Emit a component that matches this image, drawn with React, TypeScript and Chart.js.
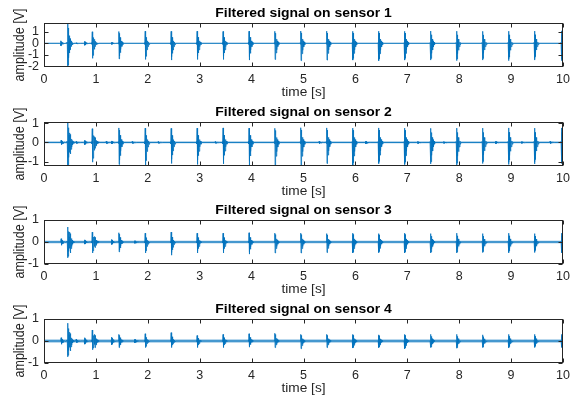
import React, { useEffect, useRef } from 'react';
import { Chart, registerables } from 'chart.js';

Chart.register(...registerables);

// ---------- data ----------
const TIME_TICKS = [0, 1, 2, 3, 4, 5, 6, 7, 8, 9, 10];
const SENSOR_TITLES = [
  'Filtered signal on sensor 1',
  'Filtered signal on sensor 2',
  'Filtered signal on sensor 3',
  'Filtered signal on sensor 4',
];
const X_LABEL = 'time [s]';
const Y_LABEL = 'amplitude [V]';

// main burst times (s)
const BURST_T = [0.455, 0.93, 1.445, 1.95, 2.45, 2.95, 3.45, 3.95, 4.45, 4.95, 5.45, 5.95, 6.45, 6.95, 7.45, 7.95, 8.45, 8.95, 9.45, 9.97];

// sensor 1
const S1_Y_TICKS = [1, 0, -1, -2];
const S1_RANGE = [-2.05, 1.76];
const S1_MAX = [1.9, 1.0, 1.02, 1.05, 1.04, 1.05, 1.03, 1.05, 1.04, 1.06, 1.05, 1.04, 1.05, 1.04, 1.06, 1.05, 1.04, 1.05, 1.06, 1.08];
const S1_MIN = [-2.1, -1.3, -1.35, -1.4, -1.45, -1.4, -1.4, -1.45, -1.4, -1.5, -1.45, -1.45, -1.5, -1.45, -1.45, -1.5, -1.45, -1.5, -1.45, -1.5];
const S1_MINOR_T = [0.32, 0.49, 0.62, 0.78, 0.97, 1.3];
const S1_MINOR_MAX = [0.22, 0.6, 0.05, 0.18, 0.35, 0.1];
const S1_MINOR_MIN = [-0.22, -0.7, -0.05, -0.18, -0.35, -0.1];

// sensor 2
const S2_Y_TICKS = [1, 0, -1];
const S2_RANGE = [-1.23, 1.07];
const S2_MAX = [1.1, 0.72, 0.76, 0.75, 0.74, 0.75, 0.76, 0.75, 0.74, 0.77, 0.76, 0.75, 0.76, 0.75, 0.74, 0.75, 0.75, 0.76, 0.75, 0.76];
const S2_MIN = [-1.3, -1.03, -1.15, -1.18, -1.1, -1.15, -1.12, -1.18, -1.2, -1.2, -1.1, -1.18, -1.1, -1.15, -1.12, -1.2, -1.1, -1.15, -1.12, -1.1];
const S2_MINOR_T = [0.33, 0.5, 0.62, 0.78, 0.98, 1.2, 1.3, 1.7, 2.2, 3.3, 5.3, 6.2, 7.2, 7.7, 8.7, 9.2, 9.75];
const S2_MINOR_MAX = [0.12, 0.5, 0.06, 0.12, 0.3, 0.07, 0.08, 0.06, 0.05, 0.05, 0.06, 0.07, 0.06, 0.05, 0.07, 0.05, 0.06];
const S2_MINOR_MIN = [-0.12, -0.6, -0.06, -0.12, -0.3, -0.07, -0.08, -0.06, -0.05, -0.05, -0.06, -0.07, -0.06, -0.05, -0.07, -0.05, -0.06];

// sensor 3
const S3_Y_TICKS = [1, 0, -1];
const S3_RANGE = [-1, 1];
const S3_MAX = [0.68, 0.45, 0.42, 0.4, 0.45, 0.4, 0.4, 0.42, 0.4, 0.4, 0.38, 0.4, 0.38, 0.4, 0.38, 0.4, 0.38, 0.4, 0.38, 0.4];
const S3_MIN = [-0.72, -0.5, -0.45, -0.5, -0.6, -0.5, -0.5, -0.55, -0.5, -0.5, -0.48, -0.5, -0.48, -0.5, -0.5, -0.5, -0.48, -0.5, -0.48, -0.5];
const S3_MINOR_T = [0.33, 0.5, 0.78, 0.98, 1.3, 1.75];
const S3_MINOR_MAX = [0.15, 0.45, 0.1, 0.25, 0.12, 0.06];
const S3_MINOR_MIN = [-0.15, -0.5, -0.1, -0.25, -0.12, -0.06];

// sensor 4
const S4_Y_TICKS = [1, 0, -1];
const S4_RANGE = [-1, 1];
const S4_MAX = [0.81, 0.5, 0.3, 0.33, 0.38, 0.25, 0.3, 0.33, 0.35, 0.3, 0.3, 0.3, 0.28, 0.3, 0.3, 0.3, 0.28, 0.3, 0.3, 0.3];
const S4_MIN = [-0.72, -0.4, -0.3, -0.3, -0.3, -0.3, -0.3, -0.28, -0.3, -0.35, -0.3, -0.32, -0.3, -0.35, -0.3, -0.33, -0.3, -0.32, -0.3, -0.3];
const S4_MINOR_T = [0.33, 0.5, 0.62, 0.78, 0.98, 1.3, 1.75];
const S4_MINOR_MAX = [0.15, 0.4, 0.08, 0.15, 0.3, 0.18, 0.08];
const S4_MINOR_MIN = [-0.15, -0.45, -0.08, -0.15, -0.3, -0.18, -0.08];

// baseline noise band thickness (px) per sensor
const NOISE_WIDTH = [1, 1.8, 2.5, 3];

// burst waveform read from the bursts: time offsets (s) and relative amplitude
const SHAPE_DT = [-0.012, -0.006, 0, 0.003, 0.006, 0.009, 0.012, 0.016, 0.02, 0.025, 0.031, 0.038, 0.046, 0.055, 0.065, 0.075];
const SHAPE_F = [0.06, -0.06, 1, -1, 0.85, -0.9, 0.7, -0.8, 0.5, -0.6, 0.35, -0.4, 0.2, -0.2, 0.1, -0.08];

// ---------- styling ----------
const FONT = '"Liberation Sans", Arial, Helvetica, sans-serif';
const LINE = 'rgba(0,114,189,0.9)';
const AXIS = '#262626';
const W = 575;
const CANVAS_H = 102;
const CANVAS_TOPS = [0, 99, 197, 296];

type Pt = { x: number; y: number };

function buildSignal(times: number[], maxs: number[], mins: number[], mt: number[], mmax: number[], mmin: number[]): Pt[] {
  const pts: Pt[] = [{ x: 0, y: 0 }, { x: 10, y: 0 }];
  const add = (t: number, hi: number, lo: number) => {
    pts.push({ x: t - 0.02, y: 0 });
    SHAPE_DT.forEach((dt, i) => {
      const f = SHAPE_F[i];
      pts.push({ x: t + dt, y: f >= 0 ? f * hi : -f * lo });
    });
    pts.push({ x: t + 0.085, y: 0 });
  };
  times.forEach((t, i) => add(t, maxs[i], mins[i]));
  mt.forEach((t, i) => add(t, mmax[i], mmin[i]));
  pts.sort((a, b) => a.x - b.x);
  return pts;
}

const SENSORS = [
  { title: SENSOR_TITLES[0], ticks: S1_Y_TICKS, range: S1_RANGE, pts: () => buildSignal(BURST_T, S1_MAX, S1_MIN, S1_MINOR_T, S1_MINOR_MAX, S1_MINOR_MIN), noise: NOISE_WIDTH[0] },
  { title: SENSOR_TITLES[1], ticks: S2_Y_TICKS, range: S2_RANGE, pts: () => buildSignal(BURST_T, S2_MAX, S2_MIN, S2_MINOR_T, S2_MINOR_MAX, S2_MINOR_MIN), noise: NOISE_WIDTH[1] },
  { title: SENSOR_TITLES[2], ticks: S3_Y_TICKS, range: S3_RANGE, pts: () => buildSignal(BURST_T, S3_MAX, S3_MIN, S3_MINOR_T, S3_MINOR_MAX, S3_MINOR_MIN), noise: NOISE_WIDTH[2] },
  { title: SENSOR_TITLES[3], ticks: S4_Y_TICKS, range: S4_RANGE, pts: () => buildSignal(BURST_T, S4_MAX, S4_MIN, S4_MINOR_T, S4_MINOR_MAX, S4_MINOR_MIN), noise: NOISE_WIDTH[3] },
];

function stretchedText(ctx: CanvasRenderingContext2D, text: string, cx: number, baseline: number, font: string, sx: number, color: string) {
  ctx.save();
  ctx.font = font;
  ctx.fillStyle = color;
  ctx.textAlign = 'center';
  ctx.textBaseline = 'alphabetic';
  ctx.translate(cx, baseline);
  ctx.scale(sx, 1);
  ctx.fillText(text, 0, 0);
  ctx.restore();
}

function makeFramePlugin(title: string) {
  return {
    id: 'matlabFrame',
    afterDraw(chart: any) {
      const { ctx, chartArea } = chart;
      const { left, right, top, bottom } = chartArea;
      const xs = chart.scales.x;
      const ys = chart.scales.y;
      ctx.save();
      ctx.strokeStyle = AXIS;
      ctx.lineWidth = 1;
      const L = Math.round(left) + 0.5;
      const R = Math.round(right) - 0.5;
      const T = Math.round(top) + 0.5;
      const B = Math.round(bottom) - 0.5;
      ctx.strokeRect(L, T, R - L, B - T);
      const tl = 4;
      ctx.beginPath();
      xs.ticks.forEach((t: any) => {
        const px = Math.round(xs.getPixelForValue(t.value)) + 0.5;
        ctx.moveTo(px, B); ctx.lineTo(px, B - tl);
        ctx.moveTo(px, T); ctx.lineTo(px, T + tl);
      });
      ys.ticks.forEach((t: any) => {
        const py = Math.round(ys.getPixelForValue(t.value)) + 0.5;
        ctx.moveTo(L, py); ctx.lineTo(L + tl, py);
        ctx.moveTo(R, py); ctx.lineTo(R - tl, py);
      });
      ctx.stroke();
      ctx.restore();

      const cx = (left + right) / 2;
      stretchedText(ctx, title, cx, top - 6, `bold 12px ${FONT}`, 1.16, '#000');
      stretchedText(ctx, X_LABEL, cx, bottom + 29, `12px ${FONT}`, 1.14, AXIS);

      ctx.save();
      ctx.font = `12.5px ${FONT}`;
      ctx.fillStyle = AXIS;
      ctx.textAlign = 'center';
      ctx.textBaseline = 'middle';
      ctx.translate(20.5, (top + bottom) / 2);
      ctx.rotate(-Math.PI / 2);
      ctx.scale(1, 1.12);
      ctx.fillText(Y_LABEL, 0, 0);
      ctx.restore();
    },
  };
}

export default function App() {
  const refs = [useRef<HTMLCanvasElement>(null), useRef<HTMLCanvasElement>(null), useRef<HTMLCanvasElement>(null), useRef<HTMLCanvasElement>(null)];

  useEffect(() => {
    const charts: Chart[] = [];
    SENSORS.forEach((s, i) => {
      const canvas = refs[i].current;
      if (!canvas) return;
      const tickFont = { family: FONT, size: 12.5 };
      const chart = new Chart(canvas, {
        type: 'line',
        data: {
          datasets: [
            {
              data: [{ x: 0, y: 0 }, { x: 10, y: 0 }],
              borderColor: 'rgba(0,114,189,0.55)',
              borderWidth: s.noise,
              pointRadius: 0,
              tension: 0,
            },
            {
              data: s.pts(),
              borderColor: LINE,
              borderWidth: 0.9,
              pointRadius: 0,
              tension: 0,
            },
          ],
        },
        options: {
          animation: false,
          responsive: false,
          devicePixelRatio: 1,
          events: [],
          layout: { padding: { top: 23, right: 12, left: 0, bottom: 0 } },
          plugins: { legend: { display: false }, tooltip: { enabled: false }, title: { display: false } },
          scales: {
            x: {
              type: 'linear',
              min: 0,
              max: 10,
              grid: { display: false, drawTicks: false },
              border: { display: false },
              ticks: { padding: 5, color: AXIS, font: tickFont, autoSkip: false, maxRotation: 0 },
              afterBuildTicks: (sc: any) => { sc.ticks = TIME_TICKS.map((v) => ({ value: v })); },
              afterFit: (sc: any) => { sc.height = 35; },
            },
            y: {
              type: 'linear',
              min: s.range[0],
              max: s.range[1],
              grid: { display: false, drawTicks: false },
              border: { display: false },
              ticks: { padding: 5, color: AXIS, font: tickFont, autoSkip: false },
              afterBuildTicks: (sc: any) => { sc.ticks = s.ticks.map((v) => ({ value: v })); },
              afterFit: (sc: any) => { sc.width = 44; },
            },
          },
        } as any,
        plugins: [makeFramePlugin(s.title)],
      });
      charts.push(chart);
    });
    return () => charts.forEach((c) => c.destroy());
  }, []);

  return (
    <div style={{ position: 'absolute', left: 0, top: 0, width: W, height: 398, background: '#fff', overflow: 'hidden' }}>
      {CANVAS_TOPS.map((top, i) => (
        <canvas
          key={i}
          ref={refs[i]}
          width={W}
          height={CANVAS_H}
          style={{ position: 'absolute', left: 0, top, width: W, height: CANVAS_H, display: 'block' }}
        />
      ))}
    </div>
  );
}
